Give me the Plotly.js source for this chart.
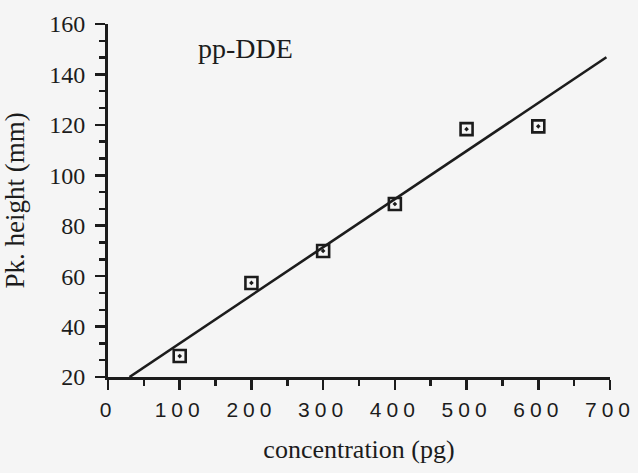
<!DOCTYPE html>
<html>
<head>
<meta charset="utf-8">
<script src="https://cdn.plot.ly/plotly-3.0.1.min.js"></script>
<style>
  html, body { margin: 0; padding: 0; background: #f5f5f5; }
  #chart { width: 638px; height: 473px; }
  .xtick text { letter-spacing: 5px; }
</style>
</head>
<body>
<div id="chart"></div>
<script>
// Measured data points (concentration in pg, peak height in mm)
const concentration = [100, 200, 300, 400, 500, 600];
const peakHeight = [28.3, 57.3, 70.0, 88.6, 118.3, 119.4];

// Calibration line as drawn in the figure (end points)
const fitLineX = [30, 695];
const fitLineY = [20, 146.8];

// Axis tick values / labels
const xTickVals = [0, 100, 200, 300, 400, 500, 600, 700];
const yTickVals = [20, 40, 60, 80, 100, 120, 140, 160];

const ink = '#1c1c1c';

const traces = [
  {
    x: fitLineX,
    y: fitLineY,
    mode: 'lines',
    line: { color: ink, width: 2.6 },
    hoverinfo: 'skip',
    showlegend: false
  },
  {
    x: concentration,
    y: peakHeight,
    mode: 'markers',
    marker: {
      symbol: 'square-open-dot',
      size: 12,
      color: ink,
      line: { color: ink, width: 2.6 }
    },
    showlegend: false
  }
];

const layout = {
  width: 638,
  height: 473,
  margin: { l: 108, r: 28, t: 24, b: 96 },
  paper_bgcolor: '#f5f5f5',
  plot_bgcolor: '#f5f5f5',
  showlegend: false,
  xaxis: {
    range: [0, 700],
    tickvals: xTickVals,
    ticks: 'outside',
    ticklen: 10,
    tickwidth: 2.5,
    tickcolor: ink,
    ticklabelstandoff: 2,
    ticklabelshift: 2.5,
    ticklabeloverflow: 'allow',
    minor: { dtick: 50, ticks: 'outside', ticklen: 6, tickwidth: 2.5, tickcolor: ink },
    showline: true,
    linewidth: 3,
    linecolor: ink,
    showgrid: false,
    zeroline: false,
    tickfont: { family: 'Liberation Sans, Arial, sans-serif', size: 21, color: ink },
    title: {
      text: 'concentration (pg)',
      font: { family: 'Liberation Serif, Times New Roman, serif', size: 26, color: ink },
      standoff: 20
    }
  },
  yaxis: {
    range: [20, 160],
    tickvals: yTickVals,
    ticks: 'outside',
    ticklen: 10,
    tickwidth: 2.5,
    tickcolor: ink,
    ticklabelstandoff: 5,
    ticklabeloverflow: 'allow',
    minor: { tick0: 20, dtick: 20 / 3, ticks: 'outside', ticklen: 6, tickwidth: 2.5, tickcolor: ink },
    showline: true,
    linewidth: 3,
    linecolor: ink,
    showgrid: false,
    zeroline: false,
    tickfont: { family: 'Liberation Serif, Times New Roman, serif', size: 24, color: ink },
    title: {
      text: 'Pk. height (mm)',
      font: { family: 'Liberation Serif, Times New Roman, serif', size: 27, color: ink },
      standoff: 17
    }
  },
  annotations: [
    {
      text: 'pp-DDE',
      xref: 'paper', yref: 'paper',
      x: 0.273, y: 0.932,
      xanchor: 'center', yanchor: 'middle',
      showarrow: false,
      font: { family: 'Liberation Serif, Times New Roman, serif', size: 28, color: ink }
    }
  ]
};

Plotly.newPlot('chart', traces, layout, { staticPlot: true, displayModeBar: false });
</script>
</body>
</html>
